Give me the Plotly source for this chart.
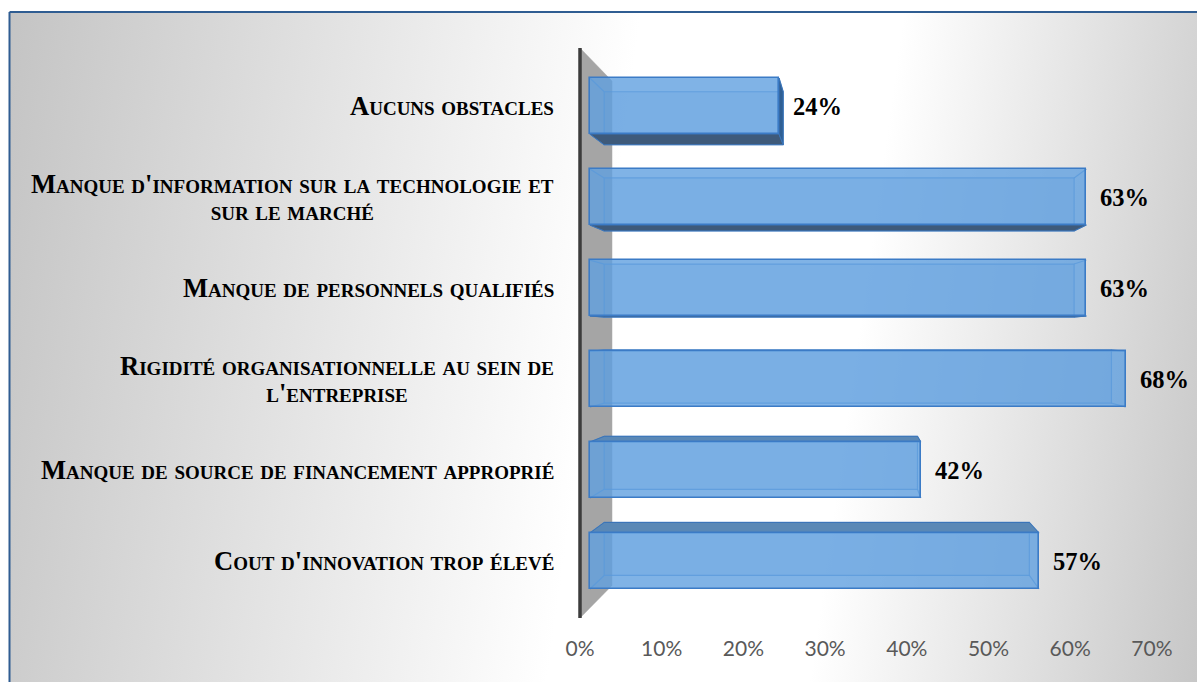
import base64
import plotly.graph_objects as go

# ---- data -------------------------------------------------------------
categories = [
    "Aucuns obstacles",
    "Manque d'information sur la technologie et<br>sur le marché",
    "Manque de personnels qualifiés",
    "Rigidité organisationnelle au sein de<br>l'entreprise",
    "Manque de source de financement approprié",
    "Cout d'innovation trop élevé",
]
values = [24, 63, 63, 68, 42, 57]
tick_values = [0, 10, 20, 30, 40, 50, 60, 70]
tick_labels = ["0%", "10%", "20%", "30%", "40%", "50%", "60%", "70%"]

# ---- canvas & 3-D projection settings (pixels) -----------------------
W, H = 1197, 682
VX, VY = 858.0, 335.0      # vanishing point
X0, XS = 580.0, 8.17       # wall-front plane: pixel of 0 %, pixels per %
Y0, YS = 97.6, 94.35       # wall-front plane: pixel of row 0, pixels per row
S_FRONT = 0.9645           # depth scale of bar front faces
S_BACK = 0.913             # depth scale of bar back faces
S_WALL = 0.885             # depth scale of the back edge of the side wall
BAR_W = 0.615

rows = list(range(len(categories)))

# vanishing point expressed in data units of the main axes
CX = (VX - X0) / XS
CY = (VY - Y0) / YS


def proj(v, r, s):
    """Project a point of the wall-front plane to depth scale s."""
    return CX + (v - CX) * s, CY + (r - CY) * s


def axis_range(p0, step, size, s):
    """Data range of an axis whose values sit on the plane of depth s."""
    vp = VX if step is XS else VY
    a0 = vp * (1 - s) + p0 * s
    a1 = step * s
    return (0 - a0) / a1, (size - a0) / a1


fig = go.Figure()

# ---- side wall ----------------------------------------------------------
w_top, w_bot = -0.525, len(categories) - 0.485
wall_pts = [proj(0, w_top, 1), proj(0, w_top, S_WALL),
            proj(0, w_bot, S_WALL), proj(0, w_bot, 1)]
fig.add_trace(go.Scatter(
    x=[p[0] for p in wall_pts] + [wall_pts[0][0]],
    y=[p[1] for p in wall_pts] + [wall_pts[0][1]],
    mode="lines", fill="toself", fillcolor="#a5a5a5",
    line=dict(color="#a5a5a5", width=0.5),
    hoverinfo="skip", showlegend=False))
fig.add_trace(go.Scatter(
    x=[0, 0], y=[w_top, w_bot], mode="lines",
    line=dict(color="#3c3c3c", width=3.5),
    hoverinfo="skip", showlegend=False))

# ---- bar depth: back faces, edges and visible side faces ---------------
EDGE = "rgba(60,125,200,0.75)"
for r, v in zip(rows, values):
    t, b = r - BAR_W / 2, r + BAR_W / 2
    corners = [(0, t), (v, t), (v, b), (0, b)]
    front = [proj(x, y, S_FRONT) for x, y in corners]
    back = [proj(x, y, S_BACK) for x, y in corners]

    # back face
    fig.add_trace(go.Scatter(
        x=[p[0] for p in back] + [back[0][0]],
        y=[p[1] for p in back] + [back[0][1]],
        mode="lines", fill="toself", fillcolor="rgba(70,130,200,0.18)",
        line=dict(color=EDGE, width=1.2),
        hoverinfo="skip", showlegend=False))

    # receding edges
    ex, ey = [], []
    for f, k in zip(front, back):
        ex += [f[0], k[0], None]
        ey += [f[1], k[1], None]
    fig.add_trace(go.Scatter(
        x=ex, y=ey, mode="lines", line=dict(color=EDGE, width=1.2),
        hoverinfo="skip", showlegend=False))

    # faces seen from outside the front face
    faces = []
    if back[2][1] > front[2][1]:          # underside (rows above the eye)
        faces.append(([front[3], front[2], back[2], back[3]], "#3e5a7a"))
    if back[0][1] < front[0][1]:          # top side (rows below the eye)
        faces.append(([front[0], front[1], back[1], back[0]], "#5a88b6"))
    if back[1][0] > front[1][0]:          # right side (short bars)
        faces.append(([front[1], front[2], back[2], back[1]], "#2f5f94"))
    for pts, col in faces:
        fig.add_trace(go.Scatter(
            x=[p[0] for p in pts] + [pts[0][0]],
            y=[p[1] for p in pts] + [pts[0][1]],
            mode="lines", fill="toself", fillcolor=col,
            line=dict(color="#3a74b8", width=1),
            hoverinfo="skip", showlegend=False))

# ---- bar front faces ----------------------------------------------------
fig.add_trace(go.Bar(
    x=values, y=rows, orientation="h", width=BAR_W,
    xaxis="x2", yaxis="y2",
    marker=dict(color="rgba(96,160,224,0.80)",
                line=dict(color="#3b7bc6", width=1.6)),
    hoverinfo="skip", showlegend=False))

# ---- annotations --------------------------------------------------------
annotations = []
for r, v in zip(rows, values):
    annotations.append(dict(
        x=v, y=r, xref="x2", yref="y2", text=f"{v}%",
        xanchor="left", yanchor="middle", xshift=12, showarrow=False,
        font=dict(family="Liberation Serif", size=24.5, weight="bold",
                  color="#000000")))
for r, label in zip(rows, categories):
    lines = label.split("<br>")
    text = "<br>".join(
        f'<span style="font-size:26.6px">{ln}</span>' for ln in lines)
    annotations.append(dict(
        x=556 / W, y=r, xref="paper", yref="y2", text=text,
        xanchor="right", yanchor="middle", align="center", showarrow=False,
        font=dict(family="Liberation Serif", size=21, weight="bold",
                  variant="small-caps", color="#000000")))

# ---- background gradient & frame -----------------------------------------
svg = f"""<svg xmlns="http://www.w3.org/2000/svg" width="{W}" height="{H}" viewBox="0 0 {W} {H}" preserveAspectRatio="none">
<defs><linearGradient id="g" gradientUnits="userSpaceOnUse" x1="0" y1="0" x2="1287" y2="181">
<stop offset="0" stop-color="#c3c3c3"/>
<stop offset="0.49" stop-color="#ffffff"/>
<stop offset="0.69" stop-color="#ffffff"/>
<stop offset="1" stop-color="#c4c4c4"/>
</linearGradient></defs>
<rect x="0" y="0" width="{W}" height="{H}" fill="#ffffff"/>
<rect x="10" y="13" width="{W - 10}" height="{H - 13}" fill="url(#g)"/>
</svg>"""
bg_src = "data:image/svg+xml;base64," + base64.b64encode(svg.encode()).decode()

shapes = [
    dict(type="line", xref="paper", yref="paper", x0=9.5 / W, x1=1,
         y0=1 - 12 / H, y1=1 - 12 / H, line=dict(color="#2f5d92", width=2)),
    dict(type="line", xref="paper", yref="paper", x0=9.5 / W, x1=9.5 / W,
         y0=0, y1=1 - 12 / H, line=dict(color="#2f5d92", width=2)),
]

xr = axis_range(X0, XS, W, 1)
yr = axis_range(Y0, YS, H, 1)
xr2 = axis_range(X0, XS, W, S_FRONT)
yr2 = axis_range(Y0, YS, H, S_FRONT)

fig.update_layout(
    width=W, height=H,
    margin=dict(l=0, r=0, t=0, b=0, pad=0),
    paper_bgcolor="#ffffff",
    plot_bgcolor="rgba(0,0,0,0)",
    bargap=0,
    xaxis=dict(range=list(xr), domain=[0, 1], anchor="free",
               position=1 - 634 / H,
               tickvals=tick_values, ticktext=tick_labels,
               tickfont=dict(family="Lato", size=21, color="#595959"),
               ticks="", showgrid=False, zeroline=False, showline=False,
               fixedrange=True),
    yaxis=dict(range=[yr[1], yr[0]], domain=[0, 1], visible=False,
               fixedrange=True),
    xaxis2=dict(range=list(xr2), overlaying="x", domain=[0, 1],
                visible=False, fixedrange=True),
    yaxis2=dict(range=[yr2[1], yr2[0]], overlaying="y", domain=[0, 1],
                visible=False, fixedrange=True),
    annotations=annotations,
    shapes=shapes,
    images=[dict(source=bg_src, xref="paper", yref="paper", x=0, y=1,
                 sizex=1, sizey=1, sizing="stretch", xanchor="left",
                 yanchor="top", layer="below")],
)

fig.write_html("out.html")
